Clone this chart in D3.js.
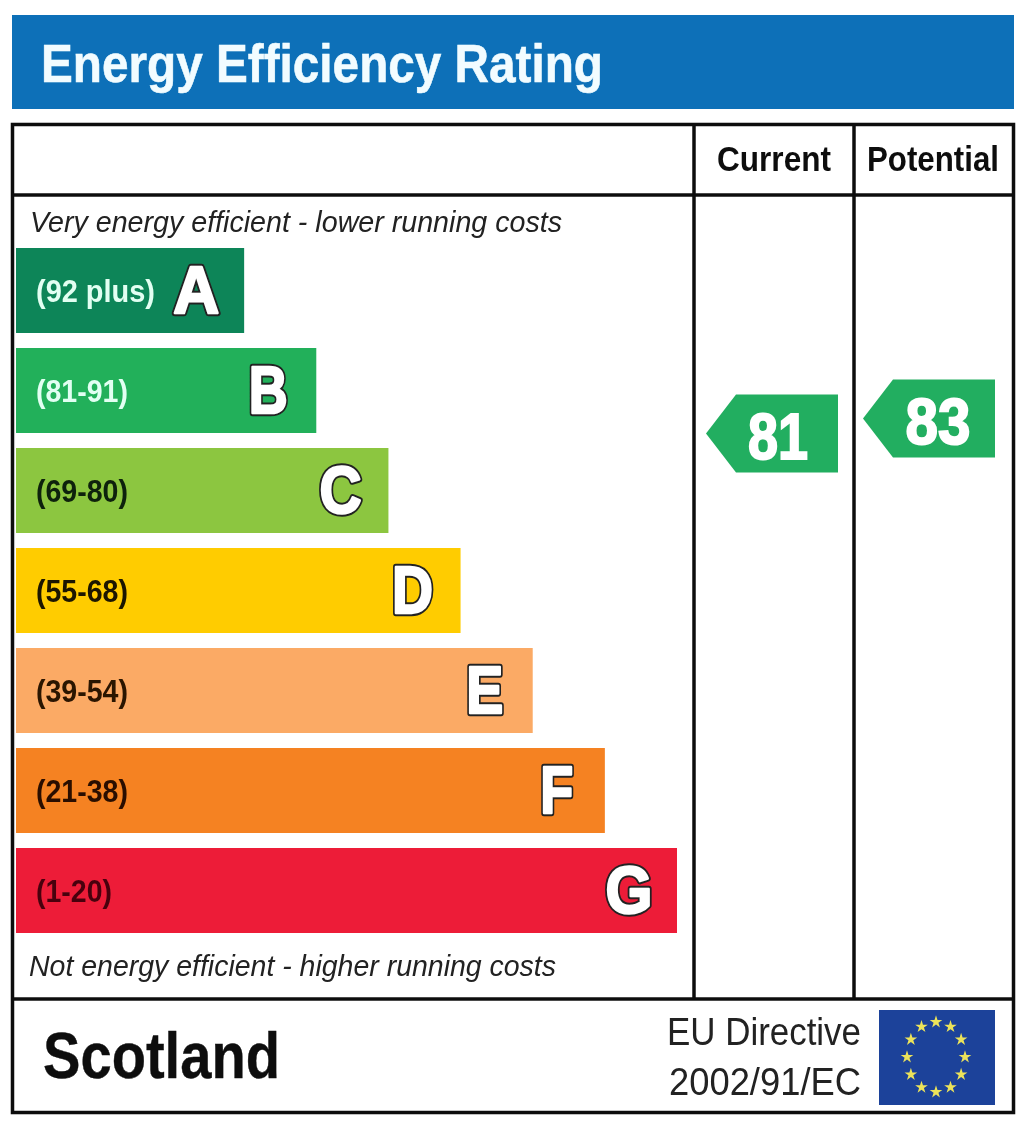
<!DOCTYPE html>
<html>
<head>
<meta charset="utf-8">
<title>Energy Efficiency Rating</title>
<script src="https://cdn.jsdelivr.net/npm/d3@7"></script>
<style>
  html, body { margin: 0; padding: 0; background: #fff; }
  svg { display: block; font-family: "Liberation Sans", Arial, sans-serif; }
</style>
</head>
<body>
<svg id="chart"></svg>
<script>
"use strict";

const bands = ["A", "B", "C", "D", "E", "F", "G"];
const ranges = ["(92 plus)", "(81-91)", "(69-80)", "(55-68)", "(39-54)", "(21-38)", "(1-20)"];
const band_lengths = [1, 2, 3, 4, 5, 6, 7];
const band_colors = ["#0f8558", "#20b05a", "#8cc63f", "#ffcc00", "#fbaa65", "#f58220", "#ed1c39"];
const range_colors = ["#e2fff2", "#e2fff2", "#10200a", "#1a1400", "#2a1200", "#2a1000", "#4a0610"];
const columns = ["Current", "Potential"];
const scores = [81, 83];

const width = 1024, height = 1124;

let svg = d3.select("#chart")
  .attr("width", width)
  .attr("height", height)
  .attr("viewBox", "0 0 " + width + " " + height);

// The reference is a soft upscaled image, so take the edges off a little
svg.append("filter")
  .attr("id", "soft")
  .append("feGaussianBlur")
  .attr("stdDeviation", 0.6);

let root = svg.append("g").attr("filter", "url(#soft)");

// Squeezes text into the measured width, the source is narrower than Arial
function label(x, y, text, size, length) {
  return root.append("text")
    .attr("x", x)
    .attr("y", y)
    .attr("font-size", size)
    .attr("textLength", length)
    .attr("lengthAdjust", "spacingAndGlyphs")
    .text(text);
}

// Header banner
root.append("rect")
  .attr("x", 12).attr("y", 15)
  .attr("width", 1002).attr("height", 94)
  .attr("fill", "#0a70b8");

label(41, 82, "Energy Efficiency Rating", 54, 562)
  .attr("font-weight", "bold")
  .attr("fill", "#f2fcff")
  .attr("stroke", "#f2fcff")
  .attr("stroke-width", 0.6);

// Frame
root.append("rect")
  .attr("x", 12.5).attr("y", 124.5)
  .attr("width", 1001).attr("height", 988)
  .attr("fill", "#fff")
  .attr("stroke", "#111")
  .attr("stroke-width", 3.5);

let rules = [[12, 195, 1014, 195], [12, 999, 1014, 999], [694, 124, 694, 999], [854, 124, 854, 999]];
root.selectAll(".rule")
  .data(rules)
  .join("line")
  .attr("class", "rule")
  .attr("x1", d => d[0]).attr("y1", d => d[1])
  .attr("x2", d => d[2]).attr("y2", d => d[3])
  .attr("stroke", "#111")
  .attr("stroke-width", 3.5);

// Column headers
let header_x = { "Current": [717, 114], "Potential": [867, 132] };
columns.forEach(function(c) {
  label(header_x[c][0], 171, c, 35, header_x[c][1])
    .attr("font-weight", "bold")
    .attr("fill", "#111");
});

label(30, 232, "Very energy efficient - lower running costs", 30, 532)
  .attr("font-style", "italic")
  .attr("fill", "#222");
label(29, 976, "Not energy efficient - higher running costs", 30, 527)
  .attr("font-style", "italic")
  .attr("fill", "#222");

// Rating bars
let y = d3.scaleBand()
  .domain(bands)
  .range([248, 933])
  .paddingInner(0.15);

let x = d3.scaleLinear()
  .domain([0, 7])
  .range([172, 677]);

let bar = root.selectAll(".band")
  .data(bands)
  .join("g")
  .attr("class", "band")
  .attr("transform", d => "translate(0," + y(d) + ")");

bar.append("rect")
  .attr("x", 16)
  .attr("width", (d, i) => x(band_lengths[i]) - 16)
  .attr("height", y.bandwidth())
  .attr("fill", (d, i) => band_colors[i]);

bar.append("text")
  .attr("x", 36)
  .attr("y", 54)
  .attr("font-size", 31)
  .attr("font-weight", "bold")
  .attr("textLength", (d, i) => i == 0 ? 119 : (i == 6 ? 76 : 92))
  .attr("lengthAdjust", "spacingAndGlyphs")
  .attr("fill", (d, i) => range_colors[i])
  .text((d, i) => ranges[i]);

// Letters have a dark outline under a fattened white glyph
let letter_fit = { A: 46, B: 39, C: 42, D: 41, E: 37, F: 33, G: 47 };
[["#222", 6.5], ["#fff", 2.5]].forEach(function(layer) {
  bar.append("text")
    .attr("x", (d, i) => x(band_lengths[i]) - 48)
    .attr("y", 65)
    .attr("text-anchor", "middle")
    .attr("font-size", 67)
    .attr("font-weight", "bold")
    .attr("textLength", d => letter_fit[d])
    .attr("lengthAdjust", "spacingAndGlyphs")
    .attr("fill", "#fff")
    .attr("stroke", layer[0])
    .attr("stroke-width", layer[1])
    .attr("stroke-linejoin", "round")
    .text(d => d);
});

// Score arrows, placed on the rating scale
let score_y = d3.scaleLinear()
  .domain([0, 100])
  .range([1041, 291]);

let arrow_line = d3.line();

scores.forEach(function(score, i) {
  let left = i == 0 ? 706 : 863;
  let mid = score_y(score);
  root.append("path")
    .attr("d", arrow_line([
      [left, mid],
      [left + 30, mid - 39],
      [left + 132, mid - 39],
      [left + 132, mid + 39],
      [left + 30, mid + 39]
    ]) + "Z")
    .attr("fill", "#22ae60");
  root.append("text")
    .attr("x", left + (i == 0 ? 72 : 75))
    .attr("y", mid + 25)
    .attr("text-anchor", "middle")
    .attr("font-size", 65)
    .attr("font-weight", "bold")
    .attr("textLength", i == 0 ? 60 : 65)
    .attr("lengthAdjust", "spacingAndGlyphs")
    .attr("fill", "#fff")
    .attr("stroke", "#fff")
    .attr("stroke-width", 2)
    .text(score);
});

// Footer
label(43, 1078, "Scotland", 65, 237)
  .attr("font-weight", "bold")
  .attr("fill", "#111")
  .attr("stroke", "#111")
  .attr("stroke-width", 0.4);
label(667, 1045, "EU Directive", 39, 194).attr("fill", "#222");
label(669, 1095, "2002/91/EC", 39, 192).attr("fill", "#222");

// EU flag
root.append("rect")
  .attr("x", 879).attr("y", 1010)
  .attr("width", 116).attr("height", 95)
  .attr("fill", "#1c429a");

let star = d3.symbol().type(d3.symbolStar).size(50);
root.selectAll(".star")
  .data(d3.range(12))
  .join("path")
  .attr("class", "star")
  .attr("d", star)
  .attr("fill", "#ece35a")
  .attr("transform", function(d) {
    let a = d / 12 * 2 * Math.PI;
    return "translate(" + (936 + 29 * Math.sin(a)) + "," + (1057 - 35 * Math.cos(a)) + ")";
  });
</script>
</body>
</html>
